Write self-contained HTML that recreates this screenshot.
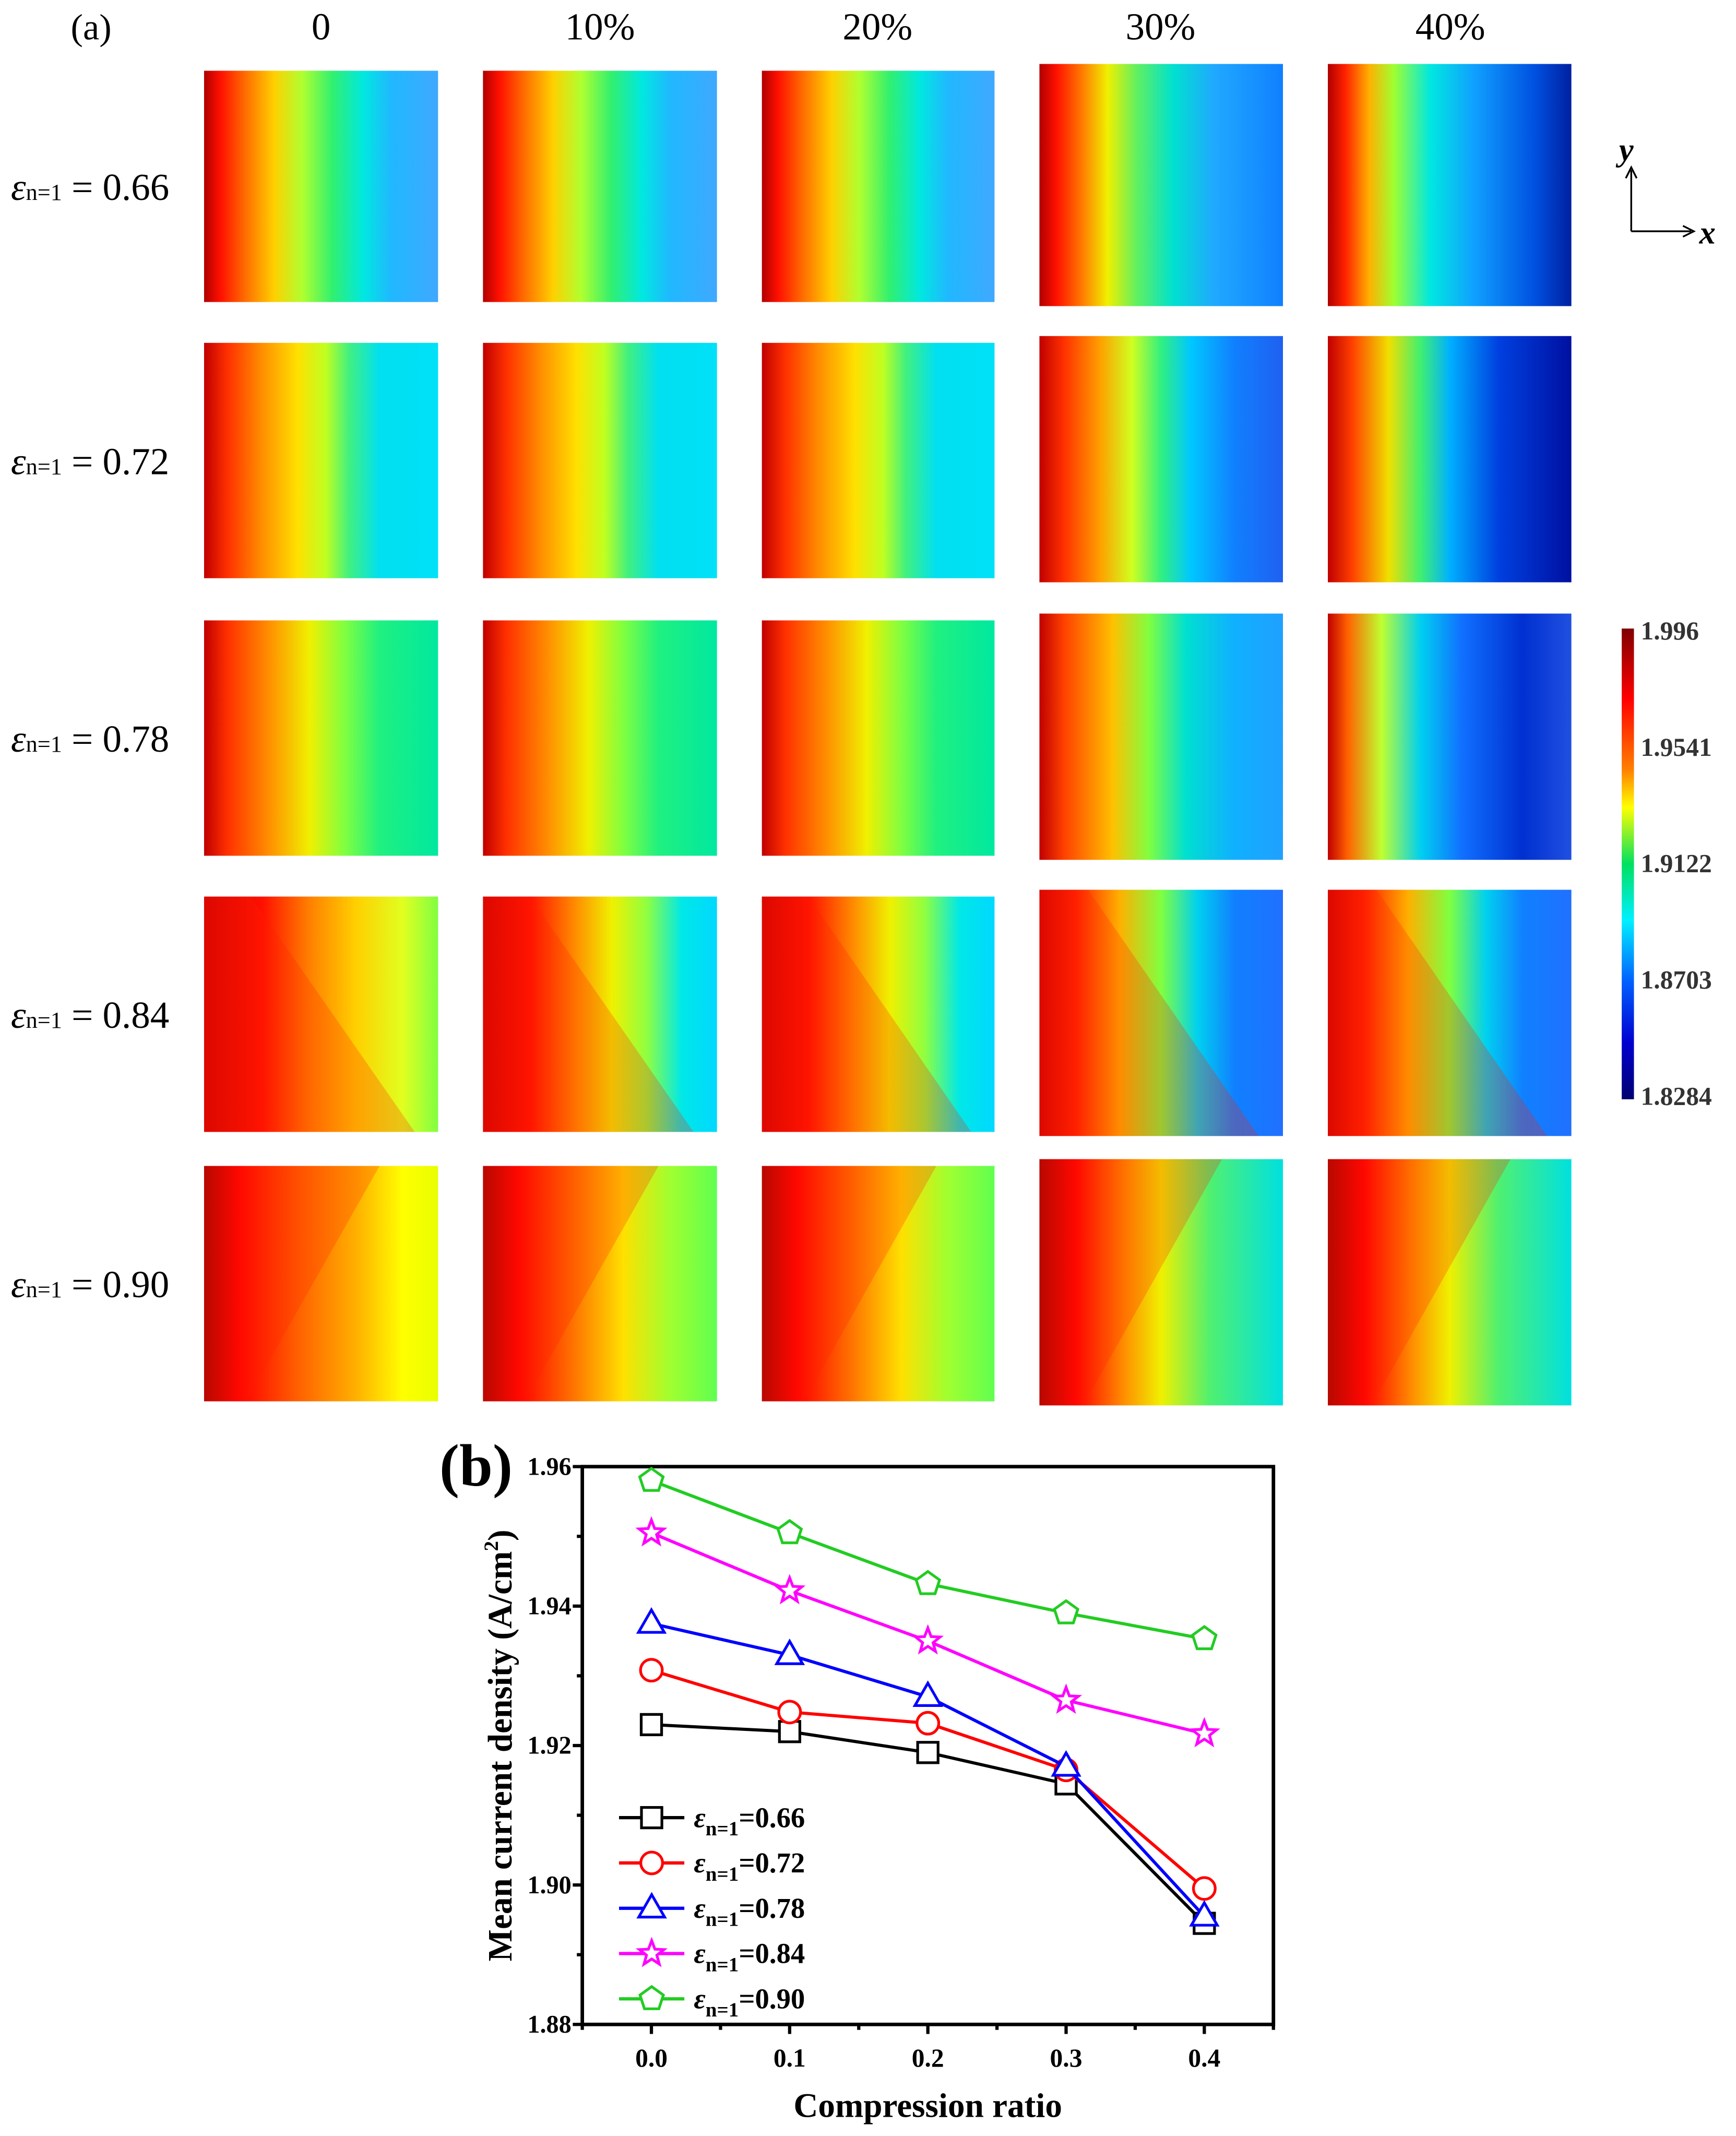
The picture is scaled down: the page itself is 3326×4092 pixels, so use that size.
<!DOCTYPE html>
<html><head><meta charset="utf-8">
<style>
html,body{margin:0;padding:0;background:#fff;}
svg{display:block;}
text{font-family:"Liberation Serif",serif;}
</style></head>
<body>
<svg id="root" width="3326" height="4092" viewBox="0 0 1276 1570" preserveAspectRatio="none" xmlns="http://www.w3.org/2000/svg">
<defs id="defs"></defs>
<g id="panelA"></g>
<g id="panelB"></g>
</svg>
<script>
const NS="http://www.w3.org/2000/svg";
// ---------- panel (a) data ----------
const colLabels=["0","10%","20%","30%","40%"];
const rowLabels=["0.66","0.72","0.78","0.84","0.90"];
const cbLabels=["1.996","1.9541","1.9122","1.8703","1.8284"];
// ---------- panel (b) data ----------
const xCats=[0,0.1,0.2,0.3,0.4];
const xTicks=["0.0","0.1","0.2","0.3","0.4"];
const yTicks=[1.88,1.90,1.92,1.94,1.96];
const s066=[1.923,1.922,1.919,1.9145,1.8945];
const s072=[1.9308,1.9248,1.9232,1.9165,1.8995];
const s078=[1.9375,1.933,1.927,1.917,1.8955];
const s084=[1.9505,1.9422,1.935,1.9265,1.9217];
const s090=[1.958,1.9505,1.9432,1.939,1.9353];
const seriesNames=["0.66","0.72","0.78","0.84","0.90"];

function el(tag,attrs,parent){const e=document.createElementNS(NS,tag);for(const k in attrs)e.setAttribute(k,attrs[k]);if(parent)parent.appendChild(e);return e;}
const defs=document.getElementById('defs');
const A=document.getElementById('panelA');
const B=document.getElementById('panelB');

const G={
 r0:[["#b00000",0],["#ff1000",.07],["#ff7000",.18],["#ffd000",.3],["#b0ff30",.42],["#30f070",.55],["#00e8e0",.68],["#20b8ff",.8],["#40a8ff",1]],
 r0b:[["#b00000",0],["#ff1000",.07],["#ff8000",.18],["#f0f000",.28],["#60f060",.4],["#00e0d0",.55],["#20a8ff",.72],["#1080ff",1]],
 r0c:[["#b00000",0],["#ff2000",.07],["#ffb000",.17],["#a0ff30",.27],["#00e8e0",.42],["#10a0ff",.6],["#0050e0",.85],["#0020a0",1]],
 r1:[["#c00000",0],["#ff3000",.1],["#ff9000",.25],["#ffe000",.4],["#c0ff20",.52],["#40f080",.62],["#00e0f0",.75],["#00e0f8",1]],
 r1b:[["#c00000",0],["#ff3000",.1],["#ffa000",.25],["#d0ff20",.38],["#30f080",.5],["#00c8ff",.62],["#1080ff",.8],["#2060f0",1]],
 r1c:[["#c00000",0],["#ff4000",.1],["#f0e000",.25],["#40f070",.38],["#00b0ff",.5],["#0040e0",.7],["#0010a0",1]],
 r2:[["#c00000",0],["#ff3000",.1],["#ff9000",.28],["#f0f000",.45],["#80ff40",.6],["#20f080",.75],["#00e8a0",1]],
 r2b:[["#c00000",0],["#ff4000",.1],["#ffc000",.3],["#80ff40",.45],["#00e0d0",.6],["#10b0ff",.8],["#20a0ff",1]],
 r2c:[["#c00000",0],["#ff6000",.08],["#c0ff30",.22],["#00d0f0",.38],["#1070ff",.55],["#0030d0",.8],["#2050e0",1]],
 r3:[["#d00000",0],["#ff1000",.25],["#ff8000",.45],["#ffd000",.65],["#e0ff20",.85],["#80ff40",1]],
 r3b:[["#d00000",0],["#ff1000",.2],["#ff9000",.4],["#f0f000",.55],["#90ff40",.7],["#00e8e8",.85],["#00d8ff",1]],
 r3c:[["#d00000",0],["#ff2000",.15],["#ffb000",.33],["#80ff40",.5],["#00d0f0",.65],["#1080ff",.8],["#2070ff",1]],
 r4:[["#a00000",0],["#ff0000",.15],["#ff6000",.4],["#ffb000",.65],["#ffff00",.85],["#e8ff00",1]],
 r4b:[["#a00000",0],["#ff0000",.15],["#ff7000",.38],["#ffe000",.6],["#a0ff30",.8],["#60ff50",1]],
 r4c:[["#a00000",0],["#ff0000",.15],["#ff9000",.35],["#f0f000",.5],["#50f070",.7],["#00e0e0",1]]
};
const cellGrad=[
 ["r0","r0","r0","r0b","r0c"],
 ["r1","r1","r1","r1b","r1c"],
 ["r2","r2","r2","r2b","r2c"],
 ["r3","r3b","r3b","r3c","r3c"],
 ["r4","r4b","r4b","r4c","r4c"]
];
const colX=[[150,322],[355,527],[560,731],[764,943],[976,1155]];
const rowY=[[52,222],[252,425],[456,629],[659,832],[857,1030]];
const colHeaderX=[236,441,645,853,1066];
Object.keys(G).forEach(k=>{
 const lg=el('linearGradient',{id:'g_'+k,x1:0,y1:0,x2:1,y2:0},defs);
 G[k].forEach(s=>el('stop',{offset:s[1],'stop-color':s[0]},lg));
});
const ta=el('text',{x:52,y:29,'font-size':27},A);ta.textContent="(a)";

colLabels.forEach((c,i)=>{
 const t=el('text',{x:colHeaderX[i],y:29,'font-size':28,'text-anchor':'middle'},A);t.textContent=c;
 
 
});
rowLabels.forEach((r,j)=>{
 const cy=(rowY[j][0]+rowY[j][1])/2+10;
 const t=el('text',{x:8,y:cy,'font-size':28},A);
 
 
 const a=el('tspan',{'font-style':'italic'},t);a.textContent="ε";
 const b=el('tspan',{'font-size':17},t);b.textContent="n=1";
 const c=el('tspan',{},t);c.textContent=" = "+r;
 colLabels.forEach((c2,i)=>{
  let y0=rowY[j][0],y1=rowY[j][1];
  if(i>=3){y0-=5;y1+=3;}
  const x0=colX[i][0],x1=colX[i][1],w=x1-x0,h=y1-y0;
  const rc=el('rect',{x:x0,y:y0,width:w,height:h,fill:'url(#g_'+cellGrad[j][i]+')'},A);
  
  
  if(j>=3){
   // diagonal red region overlay
   const pts=j===4?`${x0},${y0} ${x0+w*0.75},${y0} ${x0+w*0.18},${y1} ${x0},${y1}`:`${x0},${y0} ${x0+w*0.2},${y0} ${x0+w*0.9},${y1} ${x0},${y1}`;
   const p=el('polygon',{points:pts,fill:'#ff2000','fill-opacity':0.25},A);
   
   
  }
 });
});
const cbg=el('linearGradient',{id:'cbg',x1:0,y1:0,x2:0,y2:1},defs);
[["#800000",0],["#ff0000",.15],["#ff8000",.3],["#ffff00",.38],["#00e060",.5],["#00f0ff",.62],["#0060ff",.75],["#0000d0",.88],["#000070",1]].forEach(s=>el('stop',{offset:s[1],'stop-color':s[0]},cbg));
const cb=el('rect',{x:1192,y:462,width:9,height:346,fill:'url(#cbg)'},A);

cbLabels.forEach((l,i)=>{
 const t=el('text',{x:1206,y:470+i*85.5,'font-size':19,'font-weight':'bold',fill:'#333'},A);t.textContent=l;
 
 
});
const ax=el('g',{stroke:'#000','stroke-width':1.3,fill:'none'},A);

el('path',{d:'M1199 170 L1199 125 M1199 170 L1243 170'},ax);
el('path',{d:'M1195 131 L1199 123 L1203 131 M1237 166 L1245 170 L1237 174',fill:'none'},ax);
let t1=el('text',{x:1190,y:118,'font-size':24,'font-style':'italic','font-weight':'bold'},A);t1.textContent="y";

let t2=el('text',{x:1249,y:179,'font-size':24,'font-style':'italic','font-weight':'bold'},A);t2.textContent="x";


// ---------- panel (b) ----------
const L=428,R=936,T=1078,Bt=1488;
const xmin=-0.05,xmax=0.45,ymin=1.88,ymax=1.96;
const X=v=>L+(v-xmin)/(xmax-xmin)*(R-L);
const Y=v=>Bt-(v-ymin)/(ymax-ymin)*(Bt-T);
const frame=el('rect',{x:L,y:T,width:R-L,height:Bt-T,fill:'none',stroke:'#000','stroke-width':2.6},B);

const tb=el('text',{x:323,y:1092,'font-size':44,'font-weight':'bold'},B);tb.textContent="(b)";

yTicks.forEach((v,i)=>{
 el('line',{x1:L,x2:L-7,y1:Y(v),y2:Y(v),stroke:'#000','stroke-width':2.4},B);
 if(i<yTicks.length-1) el('line',{x1:L,x2:L-4,y1:Y(v+0.01),y2:Y(v+0.01),stroke:'#000','stroke-width':2.4},B);
 const t=el('text',{x:L-8,y:Y(v)+6,'font-size':18.5,'font-weight':'bold','text-anchor':'end'},B);t.textContent=v.toFixed(2);
 
 
});
xCats.forEach((v,i)=>{
 el('line',{x1:X(v),x2:X(v),y1:Bt,y2:Bt+7,stroke:'#000','stroke-width':2.4},B);
 el('line',{x1:X(v-0.05),x2:X(v-0.05),y1:Bt,y2:Bt+4,stroke:'#000','stroke-width':2.4},B);
 const t=el('text',{x:X(v),y:Bt+31,'font-size':19,'font-weight':'bold','text-anchor':'middle'},B);t.textContent=xTicks[i];
 
 
});
el('line',{x1:X(0.45),x2:X(0.45),y1:Bt,y2:Bt+4,stroke:'#000','stroke-width':2.4},B);
const xt=el('text',{x:682,y:1556,'font-size':25,'font-weight':'bold','text-anchor':'middle'},B);xt.textContent="Compression ratio";

const yt=el('text',{x:0,y:0,'font-size':25,'font-weight':'bold','text-anchor':'middle',transform:'translate(376,1283) rotate(-90)'},B);

yt.appendChild(document.createTextNode("Mean current density (A/cm"));
const sup=el('tspan',{'font-size':15,dy:-10},yt);sup.textContent="2";
const cl=el('tspan',{dy:10},yt);cl.textContent=")";

function marker(g,type,cx,cy,color){
 const st={fill:'#fff',stroke:color,'stroke-width':2};
 let m;
 if(type==='square'){m=el('rect',Object.assign({x:cx-7.5,y:cy-7.5,width:15,height:15},st),g);}
 else if(type==='circle'){m=el('circle',Object.assign({cx:cx,cy:cy,r:8},st),g);}
 else if(type==='tri'){m=el('polygon',Object.assign({points:`${cx},${cy-10} ${cx-9.5},${cy+6.5} ${cx+9.5},${cy+6.5}`},st),g);}
 else {
  const n=type==='star'?10:5,pts=[];
  for(let k=0;k<n;k++){const r=type==='star'?(k%2?4:9.5):9;const a=-Math.PI/2+k*2*Math.PI/n;pts.push((cx+r*Math.cos(a)).toFixed(1)+','+(cy+r*Math.sin(a)).toFixed(1));}
  m=el('polygon',Object.assign({points:pts.join(' ')},st),g);
 }
 return m;
}
const seriesData=[s066,s072,s078,s084,s090];
const colors=["#000000","#ff0000","#0000ff","#ff00ff","#22cc22"];
const markers=["square","circle","tri","star","pent"];
seriesData.forEach((d,si)=>{
 const g=el('g',{},B);
 
 
 const line=el('polyline',{points:d.map((v,i)=>X(xCats[i])+','+Y(v)).join(' '),fill:'none',stroke:colors[si],'stroke-width':2.3},g);
 
 
 d.forEach((v,i)=>{
  const m=marker(g,markers[si],X(xCats[i]),Y(v),colors[si]);
  
  
 });
 const ly=1336+si*33.3;
 const lg=el('g',{},B);
 
 
 el('line',{x1:455,x2:503,y1:ly,y2:ly,stroke:colors[si],'stroke-width':2.4},lg);
 marker(lg,markers[si],479,ly,colors[si]);
 const t=el('text',{x:510,y:ly+7,'font-size':21,'font-weight':'bold'},lg);
 const e=el('tspan',{'font-style':'italic'},t);e.textContent="ε";
 const sb=el('tspan',{'font-size':15,dy:6},t);sb.textContent="n=1";
 const vv=el('tspan',{dy:-6},t);vv.textContent="="+seriesNames[si];
});
</script>
</body></html>
